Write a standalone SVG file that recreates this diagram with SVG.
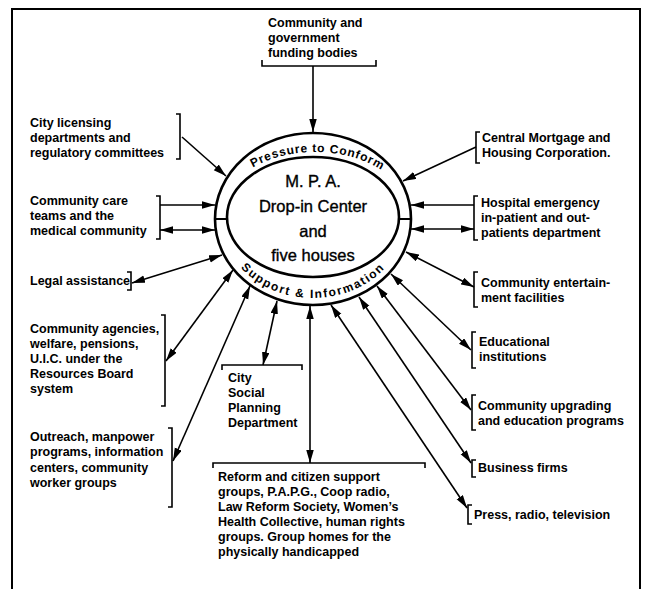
<svg xmlns="http://www.w3.org/2000/svg" width="646" height="589" viewBox="0 0 646 589">
<defs>
<marker id="ah" markerUnits="userSpaceOnUse" markerWidth="14" markerHeight="8" refX="13" refY="3.75" orient="auto-start-reverse">
<path d="M0,0 L13,3.75 L0,7.5 z" fill="#000"/>
</marker>
<path id="arcTop" d="M 217,220 A 98,68 0 0 1 413,220"/>
<path id="arcBot" d="M 221,219 A 92,79 0 0 0 405,219"/>
</defs>
<style>
.t{font-family:"Liberation Sans",Arial,sans-serif;font-weight:bold;font-size:12.5px;fill:#000}
.c{font-family:"Liberation Sans",Arial,sans-serif;font-size:16.5px;fill:#000;stroke:#000;stroke-width:0.35;text-anchor:middle}
.a{font-family:"Liberation Sans",Arial,sans-serif;font-weight:bold;font-size:12px;fill:#000}
.br{fill:none;stroke:#000;stroke-width:1.6}
.ln{fill:none;stroke:#000;stroke-width:1.6}
.one{marker-end:url(#ah)}
.two{marker-start:url(#ah);marker-end:url(#ah)}
</style>
<rect width="646" height="589" fill="#fff"/>
<path d="M12,589 V9 H640 V589" fill="none" stroke="#000" stroke-width="2"/>

<g id="center">
<ellipse cx="313" cy="219" rx="98" ry="86" fill="none" stroke="#000" stroke-width="2.6"/>
<ellipse cx="313" cy="217" rx="86" ry="60" fill="none" stroke="#000" stroke-width="2.6"/>
<path d="M215,219 H227 M399,219 H411" stroke="#000" stroke-width="2"/>
<text class="c" x="313" y="187">M. P. A.</text>
<text class="c" x="313" y="212">Drop-in Center</text>
<text class="c" x="313" y="237">and</text>
<text class="c" x="313" y="261">five houses</text>
<text class="a" letter-spacing="0.8"><textPath href="#arcTop" startOffset="51%" text-anchor="middle">Pressure to Conform</textPath></text>
<text class="a" letter-spacing="1.6"><textPath href="#arcBot" startOffset="50%" text-anchor="middle">Support &amp; Information</textPath></text>
</g>

<g id="funding">
<path class="br" d="M262,60 V66 H376 V60"/>
<text class="t" x="268" y="27">Community and</text>
<text class="t" x="268" y="42">government</text>
<text class="t" x="268" y="57">funding bodies</text>
</g>

<g id="licensing">
<path class="br" d="M176,114 H180 V159 H176"/>
<text class="t" x="30" y="127">City licensing</text>
<text class="t" x="30" y="142">departments and</text>
<text class="t" x="30" y="157">regulatory committees</text>
</g>

<g id="care">
<path class="br" d="M156,196 H160 V239 H156"/>
<text class="t" x="30" y="205">Community care</text>
<text class="t" x="30" y="220">teams and the</text>
<text class="t" x="30" y="235">medical community</text>
</g>

<g id="legal">
<path class="br" d="M127,272 H131 V290 H127"/>
<text class="t" x="30" y="285">Legal assistance</text>
</g>

<g id="agencies">
<path class="br" d="M161,315 H165 V406 H161"/>
<text class="t" x="30" y="333">Community agencies,</text>
<text class="t" x="30" y="348">welfare, pensions,</text>
<text class="t" x="30" y="363">U.I.C. under the</text>
<text class="t" x="30" y="378">Resources Board</text>
<text class="t" x="30" y="393">system</text>
</g>

<g id="outreach">
<path class="br" d="M168,428 H172 V507 H168"/>
<text class="t" x="30" y="441">Outreach, manpower</text>
<text class="t" x="30" y="456">programs, information</text>
<text class="t" x="30" y="472">centers, community</text>
<text class="t" x="30" y="487">worker groups</text>
</g>

<g id="citysocial">
<path class="br" d="M222,370 V365 H302 V370"/>
<text class="t" x="228" y="382">City</text>
<text class="t" x="228" y="397">Social</text>
<text class="t" x="228" y="412">Planning</text>
<text class="t" x="228" y="427">Department</text>
</g>

<g id="reform">
<path class="br" d="M213,468 V463 H425 V468"/>
<text class="t" x="218" y="481">Reform and citizen support</text>
<text class="t" x="218" y="496">groups, P.A.P.G., Coop radio,</text>
<text class="t" x="218" y="511">Law Reform Society, Women’s</text>
<text class="t" x="218" y="526">Health Collective, human rights</text>
<text class="t" x="218" y="541">groups. Group homes for the</text>
<text class="t" x="218" y="556">physically handicapped</text>
</g>

<g id="mortgage">
<path class="br" d="M480,132 H476 V163 H480"/>
<text class="t" x="482" y="142">Central Mortgage and</text>
<text class="t" x="482" y="157">Housing Corporation.</text>
</g>

<g id="hospital">
<path class="br" d="M478,196 H474 V240 H478"/>
<text class="t" x="481" y="207">Hospital emergency</text>
<text class="t" x="481" y="222">in-patient and out-</text>
<text class="t" x="481" y="237">patients department</text>
</g>

<g id="entertainment">
<path class="br" d="M478,272 H474 V307 H478"/>
<text class="t" x="481" y="287">Community entertain-</text>
<text class="t" x="481" y="302">ment facilities</text>
</g>

<g id="educational">
<path class="br" d="M476,332 H472 V368 H476"/>
<text class="t" x="479" y="346">Educational</text>
<text class="t" x="479" y="361">institutions</text>
</g>

<g id="upgrading">
<path class="br" d="M476,395 H472 V430 H476"/>
<text class="t" x="478" y="410">Community upgrading</text>
<text class="t" x="478" y="425">and education programs</text>
</g>

<g id="business">
<path class="br" d="M476,460 H472 V477 H476"/>
<text class="t" x="478" y="472">Business firms</text>
</g>

<g id="press">
<path class="br" d="M472,505 H468 V524 H472"/>
<text class="t" x="474" y="519">Press, radio, television</text>
</g>

<g id="connectors">
<path class="ln one" d="M313,66 L313,132"/>
<path class="ln one" d="M182,137 L226,176"/>
<path class="ln one" d="M160,205 L215,205"/>
<path class="ln two" d="M160,230 L215,230"/>
<path class="ln two" d="M132,283 L222,255"/>
<path class="ln two" d="M166,361 L233,270"/>
<path class="ln two" d="M173,461 L250,286"/>
<path class="ln two" d="M263,365 L277,301"/>
<path class="ln two" d="M310,463 L310,306"/>
<path class="ln one" d="M476,147 L403,181"/>
<path class="ln one" d="M474,205 L411,205"/>
<path class="ln two" d="M474,229 L411,229"/>
<path class="ln two" d="M474,287 L406,252"/>
<path class="ln two" d="M471,350 L391,274"/>
<path class="ln two" d="M471,410 L377,286"/>
<path class="ln two" d="M471,463 L359,297"/>
<path class="ln two" d="M467,508 L331,305"/>
</g>
</svg>
